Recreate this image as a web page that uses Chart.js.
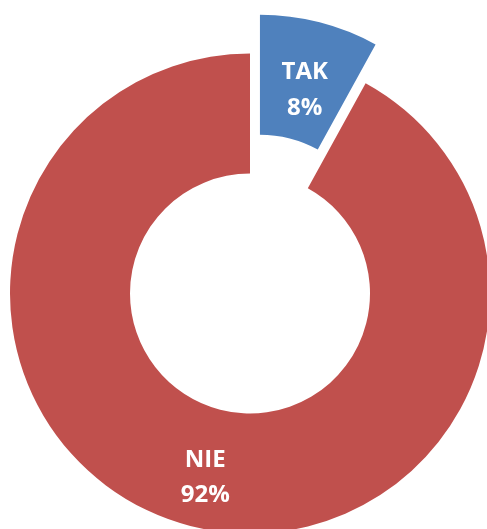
<!DOCTYPE html>
<html lang="pl">
<head>
    <meta charset="UTF-8">
    <title>TAK / NIE</title>
    <script src="https://cdn.jsdelivr.net/npm/chart.js@4.4.1/dist/chart.umd.min.js"></script>
    <style>
        html, body { margin: 0; padding: 0; background: #fff; }
        #wrap { width: 487px; height: 529px; position: relative; }
    </style>
</head>
<body>
    <div id="wrap"><canvas id="pie" width="487" height="529"></canvas></div>

    <script>
        // data
        const categories = ['TAK', 'NIE'];
        const shares = [8, 92];
        const colors = ['#4F81BD', '#C0504D'];
        const explode = [40, 0];   // px the slice is pulled out

        // pull a slice out along its bisector (plain translation, same radii)
        const explodePlugin = {
            id: 'explode',
            beforeDatasetsDraw(chart) {
                const meta = chart.getDatasetMeta(0);
                meta.data.forEach((arc, i) => {
                    const d = explode[i];
                    if (!d || arc._exploded) return;
                    const baseDraw = Object.getPrototypeOf(arc).draw;
                    arc.draw = function (ctx) {
                        const mid = (this.startAngle + this.endAngle) / 2;
                        ctx.save();
                        ctx.translate(Math.cos(mid) * d, Math.sin(mid) * d);
                        baseDraw.call(this, ctx);
                        ctx.restore();
                    };
                    arc._exploded = true;
                });
            }
        };

        // two-line labels (category + percent) in the middle of each slice
        const labelPlugin = {
            id: 'sliceLabels',
            afterDatasetsDraw(chart) {
                const ctx = chart.ctx;
                const meta = chart.getDatasetMeta(0);
                ctx.save();
                ctx.fillStyle = '#ffffff';
                ctx.font = 'bold 24px "Open Sans", "DejaVu Sans", sans-serif';
                ctx.textAlign = 'center';
                ctx.textBaseline = 'alphabetic';
                meta.data.forEach((arc, i) => {
                    const pos = arc.tooltipPosition(true);
                    const mid = (arc.startAngle + arc.endAngle) / 2;
                    const x = pos.x + Math.cos(mid) * explode[i];
                    const y = pos.y + Math.sin(mid) * explode[i];
                    ctx.fillText(categories[i], x, y - 1);
                    ctx.fillText(shares[i] + '%', x, y + 34.5);
                });
                ctx.restore();
            }
        };

        new Chart(document.getElementById('pie'), {
            type: 'doughnut',
            data: {
                labels: categories,
                datasets: [{
                    data: shares,
                    backgroundColor: colors,
                    borderWidth: 0,
                    radius: 240,
                    cutout: '50%',
                    clip: false
                }]
            },
            options: {
                responsive: false,
                animation: false,
                layout: { padding: { left: 13, top: 58, right: 0, bottom: 0 } },
                plugins: {
                    legend: { display: false },
                    tooltip: { enabled: false }
                }
            },
            plugins: [explodePlugin, labelPlugin]
        });
    </script>
</body>
</html>
